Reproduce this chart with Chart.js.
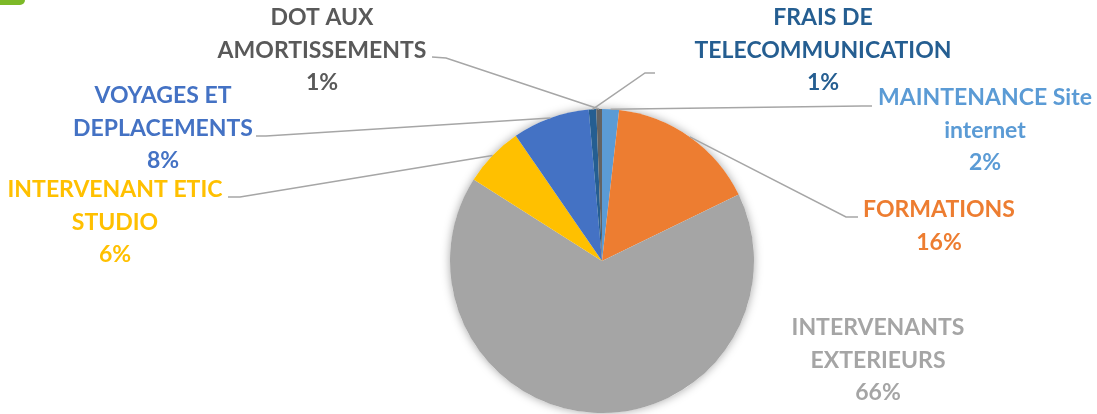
<!DOCTYPE html>
<html>
<head>
<meta charset="utf-8">
<script src="https://cdn.jsdelivr.net/npm/chart.js@4"></script>
<style>
  html, body { margin: 0; padding: 0; background: #fff; }
  #wrap { width: 1097px; height: 414px; }
</style>
</head>
<body>
<div id="wrap"><canvas id="c" width="1097" height="414"></canvas></div>
<script>
// data
const categories = [
  'MAINTENANCE Site internet',
  'FORMATIONS',
  'INTERVENANTS EXTERIEURS',
  'INTERVENANT ETIC STUDIO',
  'VOYAGES ET DEPLACEMENTS',
  'FRAIS DE TELECOMMUNICATION',
  'DOT AUX AMORTISSEMENTS'
];
const shares = [1.8, 16.0, 66.2, 6.4, 8.2, 0.8, 0.6];
const labelLines = [
  ['MAINTENANCE Site', 'internet'],
  ['FORMATIONS'],
  ['INTERVENANTS', 'EXTERIEURS'],
  ['INTERVENANT ETIC', 'STUDIO'],
  ['VOYAGES ET', 'DEPLACEMENTS'],
  ['FRAIS DE', 'TELECOMMUNICATION'],
  ['DOT AUX', 'AMORTISSEMENTS']
];

// styles
const sliceColors = ['#5B9BD5', '#ED7D31', '#A5A5A5', '#FFC000', '#4472C4', '#255E91', '#636363'];
const textColors = ['#5B9BD5', '#ED7D31', '#A5A5A5', '#FFC000', '#4472C4', '#255E91', '#595959'];
// label placement: text centre x, first line centre y, leader start + knee
const labelLayout = [
  {x: 985, y: 98, lead: [872, 106, 862, 106]},
  {x: 939, y: 210, lead: [858, 217, 846, 217]},
  {x: 878, y: 328, lead: null},
  {x: 115, y: 190, lead: [228, 197, 240, 197]},
  {x: 163, y: 96, lead: [256, 136, 266, 136]},
  {x: 823, y: 18, lead: [655, 73, 645, 73]},
  {x: 322, y: 18, lead: [432, 57, 446, 58]}
];
const LINE_H = 32.5;
const FONT = 'bold 23px Lato';

const total = shares.reduce((a, b) => a + b, 0);

const shadowPlugin = {
  id: 'pieShadow',
  beforeDatasetsDraw(chart) {
    const arc = chart.getDatasetMeta(0).data[0];
    const c = chart.ctx;
    c.save();
    c.shadowColor = 'rgba(0,0,0,0.35)';
    c.shadowBlur = 10;
    c.fillStyle = '#fff';
    c.beginPath();
    c.arc(arc.x, arc.y, arc.outerRadius, 0, Math.PI * 2);
    c.fill();
    c.restore();
  }
};

const labelPlugin = {
  id: 'calloutLabels',
  afterDatasetsDraw(chart) {
    const c = chart.ctx;
    const meta = chart.getDatasetMeta(0);
    c.save();
    // leader lines
    c.strokeStyle = '#A6A6A6';
    c.lineWidth = 1.5;
    meta.data.forEach((arc, i) => {
      const L = labelLayout[i];
      if (!L.lead) return;
      const mid = (arc.startAngle + arc.endAngle) / 2;
      const ax = arc.x + Math.cos(mid) * arc.outerRadius;
      const ay = arc.y + Math.sin(mid) * arc.outerRadius;
      c.beginPath();
      c.moveTo(L.lead[0], L.lead[1]);
      c.lineTo(L.lead[2], L.lead[3]);
      c.lineTo(ax, ay);
      c.stroke();
    });
    // texts
    c.font = FONT;
    c.textAlign = 'center';
    c.textBaseline = 'middle';
    meta.data.forEach((arc, i) => {
      const L = labelLayout[i];
      const pct = Math.round(shares[i] / total * 100) + '%';
      const lines = labelLines[i].concat([pct]);
      c.fillStyle = textColors[i];
      lines.forEach((t, k) => c.fillText(t, L.x, L.y + k * LINE_H));
    });
    // green tab in the top-left corner
    c.fillStyle = '#7DB928';
    c.beginPath();
    c.roundRect(-10, -10, 35, 15, 5);
    c.fill();
    c.restore();
  }
};

const ctx = document.getElementById('c');
new Chart(ctx, {
  type: 'pie',
  data: {
    labels: categories,
    datasets: [{
      data: shares,
      backgroundColor: sliceColors,
      borderWidth: 0
    }]
  },
  options: {
    responsive: false,
    animation: false,
    layout: {padding: {top: 109, bottom: 1, left: 450, right: 343}},
    plugins: {
      legend: {display: false},
      tooltip: {enabled: false}
    }
  },
  plugins: [shadowPlugin, labelPlugin]
});
</script>
</body>
</html>
